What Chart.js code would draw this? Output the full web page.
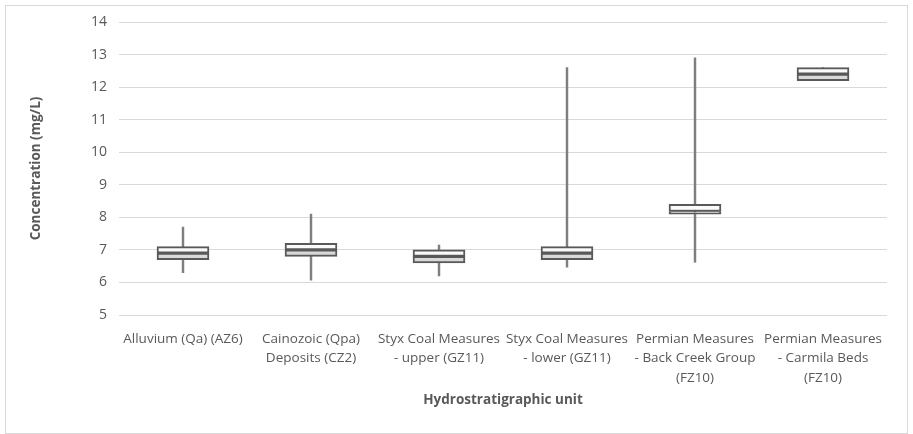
<!DOCTYPE html>
<html><head><meta charset="utf-8">
<script src="https://cdn.jsdelivr.net/npm/chart.js@4/dist/chart.umd.min.js"></script>
<style>html,body{margin:0;padding:0;background:#fff}#wrap{width:913px;height:434px;position:relative}</style>
</head><body><div id="wrap"><canvas id="c" width="913" height="434"></canvas></div>
<script>
const categories = [
  ["Alluvium (Qa) (AZ6)"],
  ["Cainozoic (Qpa)", "Deposits (CZ2)"],
  ["Styx Coal Measures", "- upper (GZ11)"],
  ["Styx Coal Measures", "- lower (GZ11)"],
  ["Permian Measures", "- Back Creek Group", "(FZ10)"],
  ["Permian Measures", "- Carmila Beds", "(FZ10)"]
];
const whiskerMin = [6.3, 6.07, 6.2, 6.47, 6.62, 12.2];
const q1         = [6.7, 6.8, 6.6, 6.7, 8.1, 12.2];
const median     = [6.9, 7.0, 6.8, 6.9, 8.18, 12.4];
const q3         = [7.1, 7.2, 7.0, 7.1, 8.4, 12.6];
const whiskerMax = [7.7, 8.1, 7.15, 12.6, 12.9, 12.6];
const yTicks = [5, 6, 7, 8, 9, 10, 11, 12, 13, 14];

const FONT = "'Open Sans', 'Liberation Sans', sans-serif";
const border = {
  id: 'outerBorder',
  afterDraw(chart) {
    const ctx = chart.ctx;
    ctx.save();
    ctx.strokeStyle = '#d9d9d9';
    ctx.lineWidth = 1;
    ctx.strokeRect(5.5, 5.5, 902, 428);
    ctx.restore();
  }
};

new Chart(document.getElementById('c'), {
  type: 'bar',
  data: {
    labels: categories,
    datasets: [
      {
        data: whiskerMin.map((v, i) => [v, whiskerMax[i]]),
        backgroundColor: '#7f7f7f', borderWidth: 0,
        barThickness: 1.8, grouped: false, order: 3
      },
      {
        data: q1.map((v, i) => [v, median[i]]),
        backgroundColor: '#d9d9d9', borderColor: '#595959', borderWidth: 2,
        borderSkipped: false, barThickness: 52, grouped: false, order: 2
      },
      {
        data: median.map((v, i) => [v, q3[i]]),
        backgroundColor: '#fafafa', borderColor: '#595959', borderWidth: 2,
        borderSkipped: false, barThickness: 52, grouped: false, order: 1
      }
    ]
  },
  options: {
    responsive: false, animation: false,
    layout: { padding: { top: 22, right: 26, left: 28, bottom: 0 } },
    plugins: { legend: { display: false }, tooltip: { enabled: false } },
    scales: {
      x: {
        grid: { display: false }, border: { display: false },
        ticks: { color: '#595959', font: { family: FONT, size: 13.5, lineHeight: 1.45 }, maxRotation: 0, autoSkip: false, padding: 6 },
        title: { display: true, text: 'Hydrostratigraphic unit', color: '#595959',
                 font: { family: FONT, size: 13.5, weight: 'bold' }, padding: { top: 0, bottom: 26 } },
        afterFit(s) { s.height = 119; }
      },
      y: {
        min: 5, max: 14,
        afterBuildTicks(s) { s.ticks = yTicks.map(v => ({ value: v })); },
        grid: { color: '#d9d9d9', drawTicks: false, lineWidth: 1 },
        border: { display: false },
        ticks: { color: '#595959', font: { family: FONT, size: 14 }, padding: 12 },
        title: { display: true, text: 'Concentration (mg/L)', color: '#595959',
                 font: { family: FONT, size: 13.5, weight: 'bold' }, padding: 0 },
        afterFit(s) { s.width = 91; }
      }
    }
  },
  plugins: [border]
});
</script>
</body></html>
